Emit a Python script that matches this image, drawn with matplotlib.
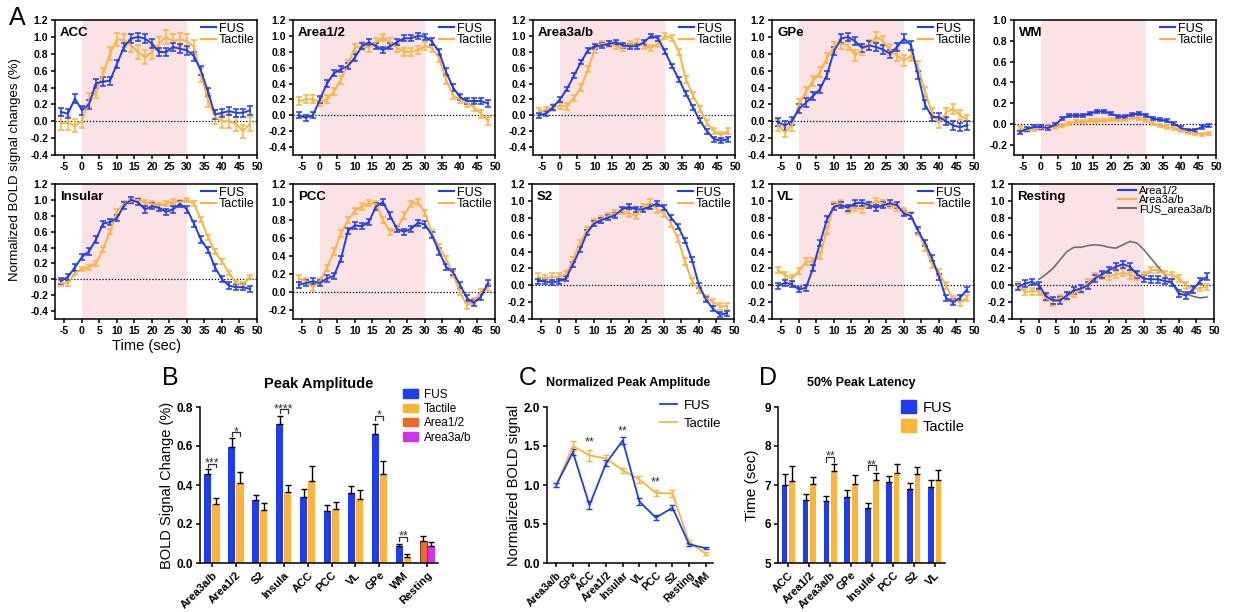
import numpy as np
import matplotlib
matplotlib.use('Agg')
from matplotlib import pyplot as plt
from matplotlib.lines import Line2D
from matplotlib.patches import Patch
from matplotlib.ticker import FormatStrFormatter

plt.rcParams['font.family'] = ['Liberation Sans', 'DejaVu Sans']
plt.rcParams['axes.unicode_minus'] = False
plt.rcParams['axes.linewidth'] = 1.1
plt.rcParams['xtick.major.width'] = 1.1
plt.rcParams['ytick.major.width'] = 1.1
plt.rcParams['xtick.major.size'] = 3
plt.rcParams['ytick.major.size'] = 3
plt.rcParams['xtick.major.pad'] = 2
plt.rcParams['ytick.major.pad'] = 2

W, H = 1234, 612
BLUE = '#1f3cf5'
ORANGE = '#ffb339'
PINK = '#fbe2e5'
GRAY = '#707070'
RED_ORANGE = '#f26a21'
MAGENTA = '#d531f2'

# ---- panel A: time courses ----
time_sec = np.arange(-6, 49, 2)

acc_fus = [0.11, 0.09, 0.27, 0.13, 0.20, 0.45, 0.47, 0.48, 0.68, 0.88, 0.98, 1.00, 0.98, 0.92,
           0.82, 0.82, 0.88, 0.86, 0.84, 0.77, 0.60, 0.35, 0.08, 0.10, 0.12, 0.10, 0.10, 0.13]
acc_tac = [-0.02, -0.02, -0.05, 0.00, 0.25, 0.35, 0.55, 0.80, 0.97, 0.96, 0.90, 0.82, 0.76, 0.82,
           0.92, 1.00, 0.95, 0.97, 0.95, 0.88, 0.55, 0.25, 0.05, 0.00, 0.00, -0.03, -0.12, -0.03]

area12_fus = [0.00, -0.03, 0.00, 0.20, 0.40, 0.53, 0.58, 0.62, 0.73, 0.87, 0.92, 0.87, 0.82, 0.87,
              0.92, 0.97, 0.97, 1.00, 0.99, 0.93, 0.80, 0.55, 0.35, 0.23, 0.18, 0.18, 0.18, 0.15]
area12_tac = [0.18, 0.20, 0.20, 0.17, 0.20, 0.30, 0.45, 0.65, 0.85, 0.87, 0.85, 0.92, 0.98, 0.92,
              0.85, 0.80, 0.80, 0.82, 0.87, 0.85, 0.72, 0.45, 0.25, 0.20, 0.15, 0.10, 0.02, -0.07]

area3ab_fus = [0.00, 0.02, 0.10, 0.20, 0.33, 0.50, 0.67, 0.82, 0.87, 0.88, 0.90, 0.92, 0.88, 0.87,
               0.87, 0.92, 1.00, 0.97, 0.80, 0.62, 0.45, 0.27, 0.10, -0.07, -0.20, -0.30, -0.32, -0.30]
area3ab_tac = [0.05, 0.07, 0.10, 0.12, 0.11, 0.22, 0.35, 0.58, 0.83, 0.90, 0.90, 0.87, 0.85, 0.90,
               0.92, 0.87, 0.85, 0.90, 1.00, 0.97, 0.80, 0.45, 0.25, 0.08, -0.10, -0.20, -0.25, -0.20]

gpe_fus = [-0.01, -0.05, 0.00, 0.15, 0.22, 0.30, 0.38, 0.55, 0.83, 0.98, 1.00, 0.95, 0.87, 0.90,
           0.88, 0.85, 0.80, 0.88, 0.98, 0.90, 0.55, 0.20, 0.05, 0.05, 0.00, -0.05, -0.07, -0.05]
gpe_tac = [-0.05, -0.13, -0.05, 0.20, 0.35, 0.48, 0.58, 0.75, 0.88, 0.92, 0.90, 0.78, 0.85, 0.90,
           1.00, 0.95, 0.85, 0.78, 0.72, 0.77, 0.65, 0.35, 0.10, -0.02, 0.10, 0.15, 0.07, 0.02]

wm_fus = [-0.08, -0.05, -0.03, -0.03, -0.04, -0.01, 0.05, 0.08, 0.08, 0.08, 0.10, 0.12, 0.12, 0.10,
          0.07, 0.07, 0.09, 0.10, 0.08, 0.05, 0.04, 0.03, 0.00, -0.04, -0.06, -0.06, -0.03, -0.02]
wm_tac = [-0.04, -0.06, -0.05, -0.04, -0.03, -0.03, -0.02, 0.00, 0.02, 0.02, 0.03, 0.03, 0.03, 0.04,
          0.04, 0.04, 0.06, 0.05, 0.03, 0.00, -0.02, -0.03, -0.04, -0.06, -0.08, -0.09, -0.10, -0.09]

insular_fus = [-0.02, 0.03, 0.15, 0.28, 0.35, 0.50, 0.70, 0.72, 0.77, 0.93, 1.00, 0.97, 0.88, 0.92,
               0.90, 0.85, 0.88, 0.95, 0.88, 0.70, 0.50, 0.37, 0.15, 0.00, -0.08, -0.10, -0.10, -0.12]
insular_tac = [-0.05, -0.05, 0.08, 0.13, 0.15, 0.20, 0.38, 0.60, 0.85, 0.95, 0.98, 1.00, 0.97, 0.95,
               0.93, 0.95, 0.98, 0.97, 1.00, 0.95, 0.75, 0.53, 0.35, 0.22, 0.08, -0.05, -0.07, 0.03]

pcc_fus = [0.08, 0.10, 0.12, 0.10, 0.15, 0.18, 0.37, 0.68, 0.74, 0.73, 0.78, 0.95, 1.00, 0.85,
           0.70, 0.67, 0.70, 0.77, 0.75, 0.63, 0.45, 0.28, 0.22, 0.08, -0.07, -0.12, -0.05, 0.10]
pcc_tac = [0.15, 0.12, 0.05, 0.12, 0.27, 0.45, 0.65, 0.80, 0.90, 0.95, 0.99, 0.98, 0.80, 0.67,
           0.70, 0.85, 0.98, 1.00, 0.88, 0.65, 0.50, 0.37, 0.20, 0.00, -0.15, -0.10, 0.00, 0.05]

s2_fus = [0.05, 0.05, 0.03, 0.05, 0.08, 0.25, 0.42, 0.62, 0.73, 0.77, 0.80, 0.83, 0.90, 0.93,
          0.90, 0.90, 0.93, 0.97, 0.92, 0.80, 0.70, 0.53, 0.30, 0.00, -0.17, -0.28, -0.35, -0.33]
s2_tac = [0.10, 0.08, 0.10, 0.10, 0.13, 0.30, 0.50, 0.65, 0.75, 0.78, 0.82, 0.85, 0.88, 0.85,
          0.82, 0.92, 0.98, 0.90, 0.85, 0.73, 0.55, 0.28, 0.05, -0.05, -0.15, -0.20, -0.25, -0.25]

vl_fus = [-0.01, 0.03, 0.01, -0.05, -0.03, 0.20, 0.50, 0.78, 0.93, 0.95, 0.92, 0.97, 0.98, 0.95,
          0.92, 0.95, 0.97, 0.95, 0.85, 0.82, 0.65, 0.50, 0.32, 0.10, -0.15, -0.20, -0.15, -0.05]
vl_tac = [0.18, 0.12, 0.08, 0.17, 0.28, 0.28, 0.35, 0.65, 0.95, 0.97, 0.90, 0.92, 0.90, 0.95,
          1.00, 0.97, 0.95, 0.92, 0.88, 0.83, 0.63, 0.45, 0.25, 0.15, 0.00, -0.17, -0.20, -0.15]

rest_area12 = [-0.02, 0.02, 0.04, 0.00, -0.13, -0.18, -0.18, -0.12, -0.06, -0.04, 0.00, 0.08, 0.13, 0.18,
               0.22, 0.25, 0.22, 0.13, 0.08, 0.07, 0.07, 0.05, 0.03, -0.10, -0.12, -0.05, 0.05, 0.10]
rest_area3ab = [0.00, -0.08, -0.07, -0.07, -0.15, -0.20, -0.15, -0.13, -0.10, -0.05, 0.03, 0.10, 0.12, 0.10,
                0.13, 0.15, 0.12, 0.10, 0.12, 0.18, 0.18, 0.13, 0.12, 0.08, 0.00, -0.05, -0.03, -0.02]
fus_line_time = np.arange(0, 49, 2)
fus_line_area3ab = [0.07, 0.13, 0.20, 0.30, 0.40, 0.45, 0.45, 0.47, 0.48, 0.47, 0.45, 0.44, 0.48,
                    0.52, 0.50, 0.42, 0.32, 0.22, 0.12, 0.02, -0.06, -0.10, -0.13, -0.15, -0.14]

# ---- panel B: peak amplitude ----
amp_regions = ['Area3a/b', 'Area1/2', 'S2', 'Insula', 'ACC', 'PCC', 'VL', 'GPe', 'WM']
amp_fus = [0.455, 0.595, 0.325, 0.715, 0.340, 0.265, 0.360, 0.660, 0.088]
amp_fus_err = [0.025, 0.045, 0.025, 0.040, 0.040, 0.030, 0.035, 0.055, 0.010]
amp_tac = [0.305, 0.410, 0.272, 0.365, 0.420, 0.278, 0.328, 0.458, 0.033]
amp_tac_err = [0.030, 0.055, 0.035, 0.035, 0.075, 0.035, 0.045, 0.065, 0.015]
rest_amp = [0.112, 0.088]
rest_amp_err = [0.025, 0.020]

# ---- panel C: normalized peak amplitude ----
norm_regions = ['Area3a/b', 'GPe', 'ACC', 'Area1/2', 'Insular', 'VL', 'PCC', 'S2', 'Resting', 'WM']
norm_fus = [1.00, 1.42, 0.74, 1.28, 1.57, 0.79, 0.58, 0.71, 0.24, 0.19]
norm_fus_err = [0.02, 0.04, 0.05, 0.04, 0.04, 0.04, 0.03, 0.03, 0.02, 0.015]
norm_tac = [1.00, 1.50, 1.38, 1.34, 1.19, 1.07, 0.90, 0.89, 0.27, 0.12]
norm_tac_err = [0.03, 0.06, 0.07, 0.05, 0.03, 0.05, 0.04, 0.04, 0.02, 0.02]

# ---- panel D: 50% peak latency ----
lat_regions = ['ACC', 'Area1/2', 'Area3a/b', 'GPe', 'Insular', 'PCC', 'S2', 'VL']
lat_fus = [7.00, 6.62, 6.58, 6.68, 6.40, 7.07, 6.90, 6.96]
lat_fus_err = [0.28, 0.15, 0.13, 0.18, 0.15, 0.17, 0.15, 0.18]
lat_tac = [7.10, 7.02, 7.35, 7.03, 7.13, 7.31, 7.27, 7.14]
lat_tac_err = [0.38, 0.18, 0.18, 0.23, 0.17, 0.22, 0.18, 0.24]


fig = plt.figure(figsize=(W / 100, H / 100), dpi=100)


def px_axes(left, top, right, bottom):
    return fig.add_axes([left / W, 1 - bottom / H, (right - left) / W, (bottom - top) / H])


def bold_ticks(ax, size, xsize=None):
    for lab in ax.get_yticklabels():
        lab.set_fontweight('bold')
        lab.set_fontsize(size)
    for lab in ax.get_xticklabels():
        lab.set_fontweight('bold')
        lab.set_fontsize(xsize or size)


def bracket(ax, x0, x1, y, h, text, fs=9):
    ax.plot([x0, x0, x1, x1], [y - h, y, y, y - h], color='#333333', lw=0.9, clip_on=False)
    ax.text((x0 + x1) / 2, y, text, ha='center', va='center', fontsize=fs, color='#333333')


def time_axes(left, top, ylim):
    ax = px_axes(left, top, left + 202, top + 135)
    ax.axvspan(0, 30, color=PINK, lw=0, zorder=0)
    ax.axhline(0, color='black', lw=0.9, ls=(0, (1, 1.5)), zorder=1)
    ax.set_xlim(-7.7, 50)
    ax.set_ylim(*ylim)
    ax.set_xticks(range(-5, 51, 5))
    start = np.ceil(ylim[0] / 0.2 - 1e-6) * 0.2
    ax.set_yticks(np.round(np.arange(start, ylim[1] + 0.01, 0.2), 1))
    ax.yaxis.set_major_formatter(FormatStrFormatter('%.1f'))
    bold_ticks(ax, 7.5)
    return ax


err_kw = dict(lw=1.4, elinewidth=1.1, capsize=2.2, capthick=1.1)

panels = [
    ('ACC', acc_fus, acc_tac, 0.05, 0.08, (-0.4, 1.2), 55, 20),
    ('Area1/2', area12_fus, area12_tac, 0.04, 0.05, (-0.5, 1.2), 293, 20),
    ('Area3a/b', area3ab_fus, area3ab_tac, 0.03, 0.04, (-0.5, 1.2), 533, 20),
    ('GPe', gpe_fus, gpe_tac, 0.05, 0.06, (-0.4, 1.2), 772, 20),
    ('WM', wm_fus, wm_tac, 0.015, 0.015, (-0.3, 1.0), 1014, 20),
    ('Insular', insular_fus, insular_tac, 0.04, 0.03, (-0.5, 1.2), 55, 184),
    ('PCC', pcc_fus, pcc_tac, 0.035, 0.035, (-0.3, 1.2), 293, 184),
    ('S2', s2_fus, s2_tac, 0.03, 0.04, (-0.4, 1.2), 532, 184),
    ('VL', vl_fus, vl_tac, 0.035, 0.04, (-0.4, 1.2), 772, 184),
]

for name, fus, tac, e_fus, e_tac, ylim, left, top in panels:
    ax = time_axes(left, top, ylim)
    ax.errorbar(time_sec, tac, yerr=e_tac, color=ORANGE, **err_kw)
    ax.errorbar(time_sec, fus, yerr=e_fus, color=BLUE, **err_kw)
    ax.text(0.025, 0.95, name, transform=ax.transAxes, fontsize=9.5, fontweight='bold', va='top')
    handles = [Line2D([], [], color=BLUE, lw=1.5), Line2D([], [], color=ORANGE, lw=1.5)]
    ax.legend(handles, ['FUS', 'Tactile'], loc='upper right', frameon=False, fontsize=9,
              handlelength=1.2, handletextpad=0.25, labelspacing=-0.05, borderaxespad=0.05,
              borderpad=0.15)

# resting panel
ax = time_axes(1012, 184, (-0.4, 1.2))
ax.errorbar(time_sec, rest_area3ab, yerr=0.04, color=ORANGE, **err_kw)
ax.errorbar(time_sec, rest_area12, yerr=0.04, color=BLUE, **err_kw)
ax.plot(fus_line_time, fus_line_area3ab, color=GRAY, lw=1.2)
ax.text(0.025, 0.95, 'Resting', transform=ax.transAxes, fontsize=9.5, fontweight='bold', va='top')
handles = [Line2D([], [], color=BLUE, lw=1.5), Line2D([], [], color=ORANGE, lw=1.5),
           Line2D([], [], color=GRAY, lw=1.5)]
ax.legend(handles, ['Area1/2', 'Area3a/b', 'FUS_area3a/b'], loc='upper right', frameon=False,
          fontsize=8, handlelength=1.6, handletextpad=0.3, labelspacing=-0.1, borderaxespad=0.05,
          borderpad=0.15)

fig.text(15 / W, 1 - 170 / H, 'Normalized BOLD signal changes (%)', rotation=90,
         ha='center', va='center', fontsize=9.5)
fig.text(147 / W, 1 - 346 / H, 'Time (sec)', ha='center', va='center', fontsize=10.5)
fig.text(17 / W, 1 - 18 / H, 'A', ha='center', va='center', fontsize=18)

# ---- panel B ----
ax = px_axes(200, 407, 438, 563)
x = np.arange(len(amp_regions))
zeros = np.zeros(len(amp_regions))
bar_err = dict(ecolor='black', elinewidth=1, capsize=2, capthick=1)
ax.bar(x - 0.17, amp_fus, 0.3, color=BLUE, yerr=[zeros, amp_fus_err], error_kw=bar_err)
ax.bar(x + 0.17, amp_tac, 0.3, color=ORANGE, yerr=[zeros, amp_tac_err], error_kw=bar_err)
rest_x = len(amp_regions)
ax.bar(rest_x - 0.17, rest_amp[0], 0.3, color=RED_ORANGE, edgecolor='#333333', lw=0.6,
       yerr=[[0], [rest_amp_err[0]]], error_kw=bar_err)
ax.bar(rest_x + 0.17, rest_amp[1], 0.3, color=MAGENTA,
       yerr=[[0], [rest_amp_err[1]]], error_kw=bar_err)
ax.set_xlim(-0.5, 9.45)
ax.set_ylim(0, 0.8)
ax.set_yticks([0.0, 0.2, 0.4, 0.6, 0.8])
ax.yaxis.set_major_formatter(FormatStrFormatter('%.1f'))
ax.set_xticks(np.arange(rest_x + 1))
ax.set_xticklabels(amp_regions + ['Resting'], rotation=45, ha='right', rotation_mode='anchor')
bold_ticks(ax, 8.5, 8)
ax.spines[['top', 'right']].set_visible(False)
ax.set_ylabel('BOLD Signal Change (%)', fontsize=10.5, labelpad=2)
ax.set_title('Peak Amplitude', fontsize=10.5, fontweight='bold', pad=14)
for idx, y, stars in [(0, 0.51, '***'), (1, 0.67, '*'), (3, 0.79, '****'), (7, 0.755, '*'), (8, 0.135, '**')]:
    bracket(ax, idx - 0.17, idx + 0.17, y, 0.02, stars)
fig.legend([Patch(color=BLUE), Patch(color=ORANGE), Patch(color=RED_ORANGE), Patch(color=MAGENTA)],
           ['FUS', 'Tactile', 'Area1/2', 'Area3a/b'], loc='upper left',
           bbox_to_anchor=(392 / W, 1 - 378 / H), frameon=False, fontsize=8.5,
           handlelength=1.3, handleheight=0.7, handletextpad=0.5, labelspacing=0.2)
fig.text(170 / W, 1 - 378 / H, 'B', ha='center', va='center', fontsize=18)

# ---- panel C ----
ax = px_axes(547, 407, 713, 563)
xc = np.arange(len(norm_regions))
ax.errorbar(xc, norm_tac, yerr=norm_tac_err, color=ORANGE, lw=1.3, elinewidth=1, capsize=2, capthick=1)
ax.errorbar(xc, norm_fus, yerr=norm_fus_err, color=BLUE, lw=1.3, elinewidth=1, capsize=2, capthick=1)
ax.set_xlim(-0.56, 9.44)
ax.set_ylim(0, 2.0)
ax.set_yticks([0.0, 0.5, 1.0, 1.5, 2.0])
ax.yaxis.set_major_formatter(FormatStrFormatter('%.1f'))
ax.set_xticks(xc)
ax.set_xticklabels(norm_regions, rotation=45, ha='right', rotation_mode='anchor')
bold_ticks(ax, 8.5, 7.5)
ax.spines[['top', 'right']].set_visible(False)
ax.set_ylabel('Normalized BOLD signal', fontsize=10.5, labelpad=2)
fig.text(628 / W, 1 - 383 / H, 'Normalized Peak Amplitude', ha='center', va='center',
         fontsize=9, fontweight='bold')
for idx, y in [(2, 1.54), (4, 1.69), (6, 1.03)]:
    ax.text(idx, y, '**', ha='center', va='center', fontsize=9, color='#333333')
fig.legend([Line2D([], [], color=BLUE, lw=1.3), Line2D([], [], color=ORANGE, lw=1.3)],
           ['FUS', 'Tactile'], loc='upper left', bbox_to_anchor=(648 / W, 1 - 388 / H),
           frameon=False, fontsize=9.5, handlelength=1.3, handletextpad=0.5, labelspacing=0.4)
fig.text(528 / W, 1 - 378 / H, 'C', ha='center', va='center', fontsize=18)

# ---- panel D ----
ax = px_axes(778, 407, 945, 563)
xd = np.arange(len(lat_regions))
zd = np.zeros(len(lat_regions))
ax.bar(xd - 0.18, lat_fus, 0.27, bottom=0, color=BLUE, yerr=[zd, lat_fus_err], error_kw=bar_err)
ax.bar(xd + 0.18, lat_tac, 0.27, bottom=0, color=ORANGE, yerr=[zd, lat_tac_err], error_kw=bar_err)
ax.set_xlim(-0.5, 7.5)
ax.set_ylim(5, 9)
ax.set_yticks([5, 6, 7, 8, 9])
ax.set_xticks(xd)
ax.set_xticklabels(lat_regions, rotation=45, ha='right', rotation_mode='anchor')
bold_ticks(ax, 8.5, 8)
ax.spines[['top', 'right']].set_visible(False)
ax.set_ylabel('Time (sec)', fontsize=11, labelpad=4)
fig.text(861 / W, 1 - 383 / H, '50% Peak Latency', ha='center', va='center',
         fontsize=9, fontweight='bold')
for idx, y in [(2, 7.73), (4, 7.51)]:
    bracket(ax, idx - 0.18, idx + 0.18, y, 0.13, '**')
fig.legend([Patch(color=BLUE), Patch(color=ORANGE)], ['FUS', 'Tactile'], loc='upper left',
           bbox_to_anchor=(888 / W, 1 - 387 / H), frameon=False, fontsize=10.5,
           handlelength=1.0, handleheight=1.0, handletextpad=0.5, labelspacing=0.3)
fig.text(768 / W, 1 - 378 / H, 'D', ha='center', va='center', fontsize=18)

fig.savefig('out.png', dpi=100)
